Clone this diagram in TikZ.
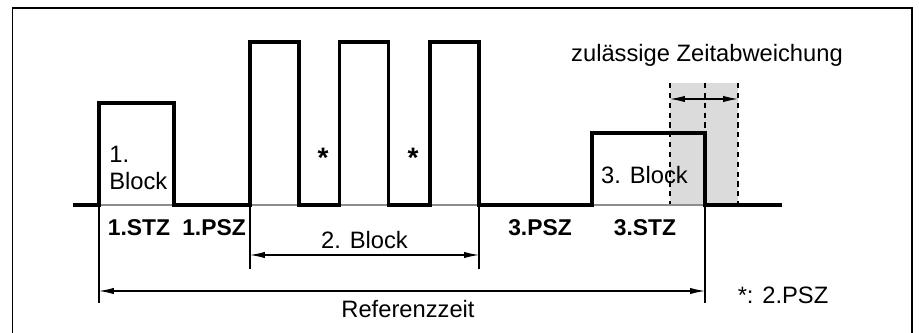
\documentclass[tikz,border=0pt]{standalone}
\usepackage{fontspec}
\setmainfont{Liberation Sans}
\usetikzlibrary{arrows.meta,calc}

\tikzset{
  sig/.style={line width=1.95pt,line join=miter},
  hair/.style={line width=.6pt},
  dim/.style={hair,{Latex[length=8.5pt,width=3.6pt]}-{Latex[length=8.5pt,width=3.6pt]}},
  tol/.style={line width=.6pt,dash pattern=on 3pt off 2.6pt},
  lbl/.style={inner sep=0pt,font=\fontsize{13.5}{15.4}\selectfont},
  blbl/.style={lbl,font=\fontsize{13}{15.4}\selectfont\bfseries}
}

\begin{document}
\begin{tikzpicture}[x=.02cm,y=-.02cm]
\useasboundingbox (0,0) rectangle (919,333);
\draw[line width=.7pt] (12.5,345)--(12.5,8)--(912,8)--(912,345);
% tolerance band
\coordinate (Tl) at (670,83); \coordinate (Tm) at (705,83); \coordinate (Tr) at (738,83);
\fill[black!14] (Tl) rectangle (738,205);
\draw[tol] (Tl)--(670,205) (Tm)--(705,133) (Tr)--(738,205);
\draw[dim] ($(Tl)+(0,16)$) coordinate(Ta)--($(Tr)+(0,16)$) coordinate(Tb);
\node[lbl] (zul) at (707,55) {zulässige Zeitabweichung};
% baseline and signal
\draw[hair,black!45] (73,205)--(782,205);
\draw[sig] (73,205)--(99,205) coordinate(A)--(99,103)--(174,103)--(174,205)
  --(250,205) coordinate(B)
  foreach \x in {250,339.5,430}{--(\x,205)--(\x,42)--(\x+49,42)--(\x+49,205)}
  --(479,205) coordinate(C)--(592,205)--(592,133)--(705,133)--(705,205) coordinate(D)--(782,205);
% extension lines
\draw[hair] (A)--++(0,98) (B)--++(0,64) (C)--++(0,64) (D)--++(0,98);
\draw[dim] ($(B)+(0,50)$) coordinate(B2a)--($(C)+(0,50)$) coordinate(B2b);
\draw[dim] ($(A)+(0,86)$) coordinate(Ra)--($(D)+(0,86)$) coordinate(Rb);
% labels
\node[lbl,anchor=west,align=left] (b1) at (109,168) {1.\\Block};
\node[lbl] (s1) at (323,158) {\fontsize{16}{16}\selectfont\bfseries *};
\node[lbl] (s2) at (413,158) {\fontsize{16}{16}\selectfont\bfseries *};
\node[lbl] (b3) at (644.5,175) {3. Block};
\node[blbl] (stz1) at (139,228) {1.STZ};
\node[blbl] (psz1) at (214,228) {1.PSZ};
\node[blbl] (psz3) at (540,228) {3.PSZ};
\node[blbl] (stz3) at (645,228) {3.STZ};
\node[lbl] (b2) at (364.5,240) {2. Block};
\node[lbl] (ref) at (408,309) {Referenzzeit};
\node[lbl] (note) at (783,295) {*: 2.PSZ};
\end{tikzpicture}
\end{document}
